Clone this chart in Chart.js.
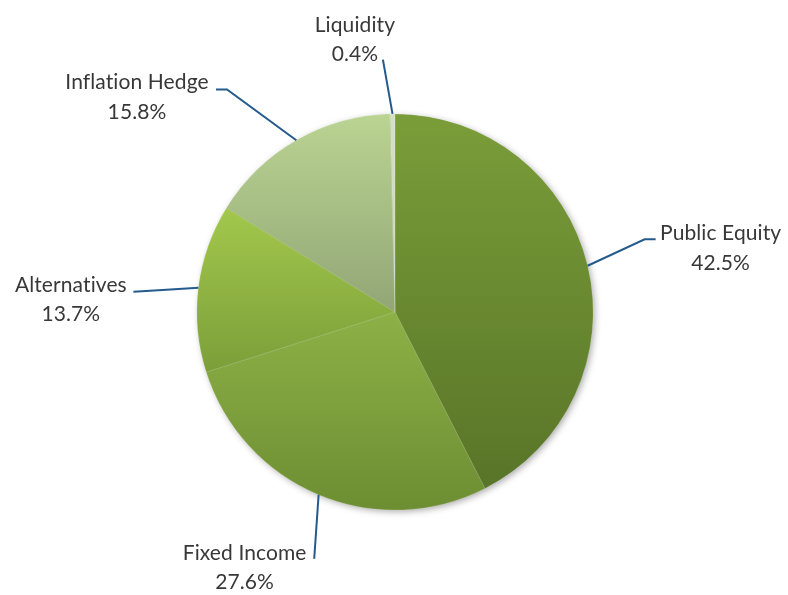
<!DOCTYPE html>
<html>
<head>
<meta charset="utf-8">
<script src="https://cdn.jsdelivr.net/npm/chart.js@4.4.1/dist/chart.umd.min.js"></script>
<style>
  html, body { margin: 0; padding: 0; background: #fff; }
  #wrap { width: 788px; height: 595px; position: relative; }
</style>
</head>
<body>
<div id="wrap"><canvas id="pie"></canvas></div>
<script>
// slice data, clockwise from 12 o'clock
const categories = ["Public Equity", "Fixed Income", "Alternatives", "Inflation Hedge", "Liquidity"];
const allocation = [42.5, 27.6, 13.7, 15.8, 0.4];

// top / bottom gradient colours for each slice
const topColors = ["#7b9d39", "#8db147", "#a3c84c", "#bad492", "#d6e0c8"];
const bottomColors = ["#587528", "#6d8d32", "#7c9e3a", "#92a676", "#c9d4ba"];

// label placement, offsets from the slice's outer mid point
const labelLayout = [
  { pts: [[57, -26.4], [68, -26.4]], text: [133, -25.7] },
  { pts: [[-4.4, 64]], text: [-74, 65] },
  { pts: [[-40, 2.5], [-65, 4]], text: [-127.5, 4] },
  { pts: [[-69.3, -50.7], [-80.3, -50.7]], text: [-159.3, -51] },
  { pts: [[-9.6, -54.3]], text: [-37.6, -82.3] },
];

function pieGeom(chart) {
  const a = chart.chartArea;
  return {
    cx: (a.left + a.right) / 2,
    cy: (a.top + a.bottom) / 2,
    r: Math.min(a.right - a.left, a.bottom - a.top) / 2,
  };
}

// vertical extent of slice i, used for its gradient
function sliceYRange(i, g) {
  const total = allocation.reduce((s, v) => s + v, 0);
  let start = 0;
  for (let k = 0; k < i; k++) start += allocation[k];
  const a0 = (start / total) * Math.PI * 2;
  const a1 = ((start + allocation[i]) / total) * Math.PI * 2;
  const ys = [g.cy, g.cy - g.r * Math.cos(a0), g.cy - g.r * Math.cos(a1)];
  for (let k = 0; k <= 2; k++) {
    const a = k * Math.PI;
    if (a >= a0 && a <= a1) ys.push(g.cy - g.r * Math.cos(a));
  }
  return [Math.min(...ys), Math.max(...ys)];
}

function sliceFill(ctx) {
  const chart = ctx.chart;
  const i = ctx.dataIndex;
  if (!chart.chartArea || i === undefined) return topColors[i || 0];
  const g = pieGeom(chart);
  const [y0, y1] = sliceYRange(i, g);
  const grad = chart.ctx.createLinearGradient(0, y0, 0, y1);
  grad.addColorStop(0, topColors[i]);
  grad.addColorStop(1, bottomColors[i]);
  return grad;
}

const pieShadow = {
  id: "pieShadow",
  beforeDatasetsDraw(chart) {
    const g = pieGeom(chart);
    const c = chart.ctx;
    c.save();
    c.shadowColor = "rgba(0,0,0,0.35)";
    c.shadowBlur = 7;
    c.shadowOffsetX = 2;
    c.shadowOffsetY = 2;
    c.fillStyle = "#6d8d32";
    c.beginPath();
    c.arc(g.cx, g.cy, g.r - 1, 0, Math.PI * 2);
    c.fill();
    c.restore();
  },
};

const leaderLabels = {
  id: "leaderLabels",
  afterDatasetsDraw(chart) {
    const c = chart.ctx;
    const meta = chart.getDatasetMeta(0);
    c.save();
    meta.data.forEach((arc, i) => {
      const mid = (arc.startAngle + arc.endAngle) / 2;
      const ax = arc.x + Math.cos(mid) * arc.outerRadius;
      const ay = arc.y + Math.sin(mid) * arc.outerRadius;
      const lay = labelLayout[i];

      c.strokeStyle = "#245a8c";
      c.lineWidth = 2;
      c.beginPath();
      c.moveTo(ax, ay);
      lay.pts.forEach(p => c.lineTo(ax + p[0], ay + p[1]));
      c.stroke();

      c.fillStyle = "#383838";
      c.font = "21px Lato";
      c.letterSpacing = "0.1px"; // keeps Lato from joining "ti"
      c.textAlign = "center";
      c.textBaseline = "alphabetic";
      const tx = ax + lay.text[0];
      const ty = ay + lay.text[1];
      c.fillText(categories[i], tx, ty);
      c.fillText(allocation[i].toFixed(1) + "%", tx, ty + 29.5);
    });
    c.restore();
  },
};

new Chart(document.getElementById("pie"), {
  type: "pie",
  data: {
    labels: categories,
    datasets: [
      {
        data: allocation,
        backgroundColor: sliceFill,
        borderColor: "rgba(255,255,255,0.18)",
        borderWidth: 0.8,
        hoverOffset: 0,
      },
    ],
  },
  options: {
    responsive: true,
    maintainAspectRatio: false,
    animation: false,
    events: [],
    layout: { padding: { top: 113.5, bottom: 84.5, left: 2, right: 0 } },
    plugins: {
      legend: { display: false },
      tooltip: { enabled: false },
    },
  },
  plugins: [pieShadow, leaderLabels],
});
</script>
</body>
</html>
